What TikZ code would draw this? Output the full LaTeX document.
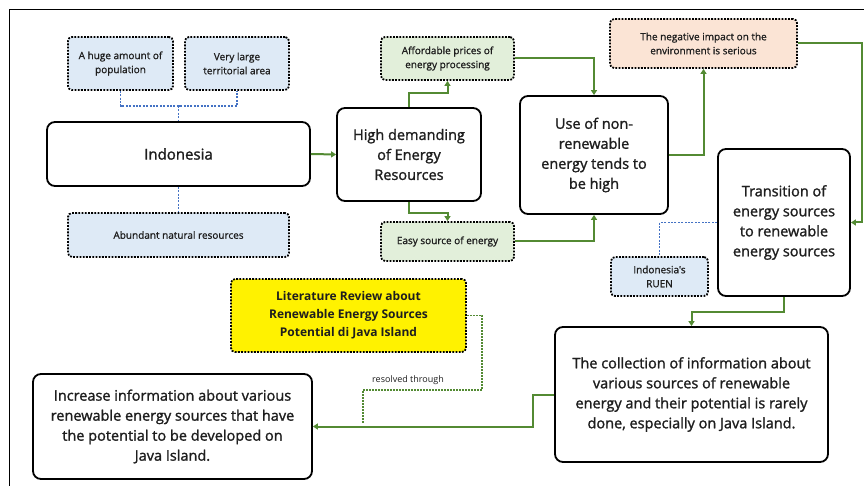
\documentclass[tikz,border=0pt]{standalone}
\usepackage{fontspec}
\setmainfont{Open Sans}
\newfontfamily\medfont{Open Sans}[FakeBold=1.4]
\newfontfamily\smlfont{Open Sans}[FakeBold=1.0]
\usetikzlibrary{arrows.meta}
\definecolor{lblue}{HTML}{DEEAF6}
\definecolor{lgreen}{HTML}{E2EFDA}
\definecolor{lpeach}{HTML}{FBE4D5}
\definecolor{gline}{HTML}{538A33}
\definecolor{bline}{HTML}{4472C4}
\definecolor{txt}{HTML}{1E1E1E}
\tikzset{
  mainbox/.style={draw=black, line width=1.8pt, rounded corners=8pt, fill=white, align=center, text=txt, inner sep=2pt, font=\medfont\fontsize{14.5}{20}\selectfont},
  dotbox/.style={draw=black, line width=1.8pt, dash pattern=on 1.8pt off 1.4pt, rounded corners=4pt, align=center, text=txt, inner sep=2pt, font=\smlfont\fontsize{10}{14}\selectfont},
  garrow/.style={draw=gline, line width=2pt, -{Triangle[width=6pt,length=5pt]}},
  bluedot/.style={draw=bline, line width=1.9pt, dash pattern=on 1.9pt off 1.5pt},
  greendot/.style={draw=gline, line width=1.6pt, dash pattern=on 1.6pt off 1.4pt},
}
\begin{document}
\begin{tikzpicture}[x=1pt,y=-1pt]
\useasboundingbox (0,0) rectangle (864,486);
\draw[line width=0.8pt] (9,486) -- (9,9) -- (864,9);

\node[dotbox, fill=lblue, minimum width=105pt, minimum height=53pt] (pop) at (120.5,63.5) {A huge amount of\\population};
\node[dotbox, fill=lblue, minimum width=104pt, minimum height=53pt] (terr) at (237,63.5) {Very large\\territorial area};
\node[mainbox, minimum width=263pt, minimum height=64pt, font=\medfont\fontsize{15}{20}\selectfont] (indo) at (178.5,154) {Indonesia};
\node[dotbox, fill=lblue, minimum width=221pt, minimum height=44pt] (abund) at (178.5,235) {Abundant natural resources};

\node[dotbox, fill=lgreen, minimum width=133pt, minimum height=43pt] (afford) at (447.5,58.5) {Affordable prices of\\energy processing};
\node[mainbox, minimum width=144pt, minimum height=93pt] (hd) at (409,154.5) {High demanding\\of Energy\\Resources};
\node[dotbox, fill=lgreen, minimum width=133pt, minimum height=39pt] (easy) at (447.5,241.5) {Easy source of energy};

\node[mainbox, minimum width=148pt, minimum height=118pt] (use) at (594,155) {Use of non-\\renewable\\energy tends to\\be high};
\node[dotbox, fill=lpeach, minimum width=187pt, minimum height=49pt] (neg) at (703.5,43.5) {The negative impact on the\\environment is serious};
\node[mainbox, minimum width=132pt, minimum height=147pt] (trans) at (784,222.5) {Transition of\\energy sources\\to renewable\\energy sources};
\node[dotbox, fill=lblue, minimum width=97pt, minimum height=39pt] (ruen) at (659.5,276.5) {Indonesia's\\RUEN};

\node[mainbox, minimum width=273pt, minimum height=135pt] (coll) at (691.5,394.5) {The collection of information about\\various sources of renewable\\energy and their potential is rarely\\done, especially on Java Island.};
\node[dotbox, fill=yellow, minimum width=235pt, minimum height=73pt, font=\bfseries\fontsize{12}{18}\selectfont] (lit) at (348.5,315.5) {Literature Review about\\Renewable Energy Sources\\Potential di Java Island};
\node[mainbox, minimum width=279pt, minimum height=105pt] (inc) at (172.5,426.5) {Increase information about various\\renewable energy sources that have\\the potential to be developed on\\Java Island.};

% blue dotted links
\coordinate (j1) at (178.5,106);
\draw[bluedot] (pop.south) |- (j1) -| (terr.south);
\draw[bluedot] (j1) -- (indo.north);
\draw[bluedot] (indo.south) -- (abund.north);
\draw[bluedot] (trans.west) -| (ruen.north);

% green arrows
\draw[garrow] (indo.east) -- (hd.west);
\draw[garrow] (hd.north) -- ++(0,-14) -| (afford.south);
\draw[garrow] (hd.south) -- ++(0,11) -| (easy.north);
\draw[garrow] (afford.east) -| (use.north);
\draw[garrow] (easy.east) -| (use.south);
\draw[garrow] (use.east) -| (neg.south);
\coordinate (nr) at (862,43.5);
\draw[garrow] (neg.east) -- (nr) |- (trans.east);
\draw[garrow] (trans.south) -- ++(0,15) -| (coll.north);
\draw[garrow] (coll.west) -- ++(-21,0) |- (inc.east);

% green dotted
\coordinate (d1) at (482,390);
\coordinate (d2) at (363,390);
\coordinate (d3) at (363,423);
\draw[greendot] (lit.east) -| (d1) -- (d2) -- (d3);
\node[font=\fontsize{9}{11}\selectfont, text=txt] (res) at (408,380) {resolved through};
\end{tikzpicture}
\end{document}
